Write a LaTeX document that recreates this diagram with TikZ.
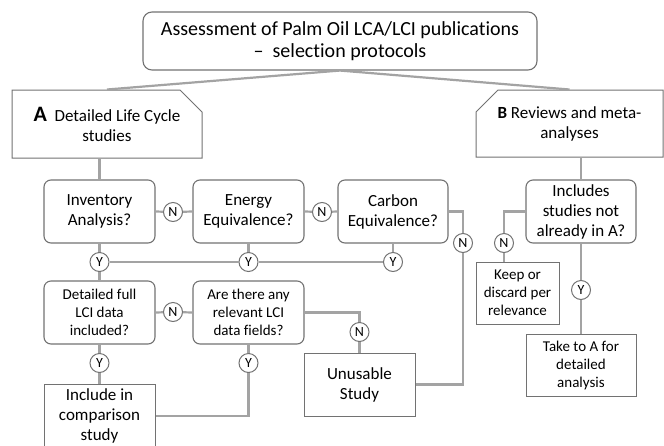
\documentclass[tikz,border=0pt]{standalone}
\usepackage{fontspec}
\setmainfont[Ligatures=NoCommon]{Carlito}
\usetikzlibrary{positioning, shapes.misc}
\definecolor{boxgray}{HTML}{727272}
\definecolor{linkgray}{HTML}{A3A3A3}

\begin{document}
\begin{tikzpicture}[
    x=1pt, y=-1pt,
    qbox/.style={rectangle, rounded corners=7pt, draw=boxgray, line width=1.1pt,
                 align=center, inner sep=0pt, minimum width=111pt, minimum height=63pt,
                 font=\fontsize{17}{20}\selectfont},
    qsmall/.style={qbox, font=\fontsize{15}{18}\selectfont},
    sbox/.style={qbox, rounded corners=0pt, line width=1pt},
    headbox/.style={chamfered rectangle, chamfered rectangle xsep=11pt,
                    chamfered rectangle ysep=11pt, draw=boxgray, line width=1pt,
                    align=center, inner sep=0pt, font=\fontsize{17}{20}\selectfont},
    yn/.style={circle, draw=boxgray, fill=white, line width=1pt, inner sep=0pt,
               minimum size=19pt, font=\fontsize{14}{14}\selectfont},
    link/.style={draw=linkgray, line width=2.2pt}
  ]
  \useasboundingbox (0,0) rectangle (664,445);

  % heading boxes
  \node[qbox, rounded corners=9pt, minimum width=394pt, minimum height=58pt,
        font=\fontsize{20}{22}\selectfont] (title) at (340,41)
        {Assessment of Palm Oil LCA/LCI publications\\– \ selection protocols};
  \node[headbox, chamfered rectangle corners=north east,
        minimum width=190pt, minimum height=68pt] (studA) at (107,124)
        {{\fontsize{22}{22}\selectfont\bfseries A}\ \ Detailed Life Cycle\\studies};
  \node[headbox, chamfered rectangle corners=north west,
        minimum width=187pt, minimum height=67pt] (studB) at (569.5,123.5)
        {\textbf{B} Reviews and meta-\\analyses};

  % branch A, first row
  \node[qbox] (invent) at (99.5,211.5) {Inventory\\Analysis?};
  \node[qbox] (energy) at (248.5,211.5) {Energy\\Equivalence?};
  \node[qbox, minimum width=110pt] (carbon) at (393,211.5) {Carbon\\Equivalence?};
  \node[yn] (nInv) at (173,212) {N};
  \node[yn] (nEne) at (322,212) {N};
  \node[yn] (yInv) at (99.5,262) {Y};
  \node[yn] (yEne) at (248.5,262) {Y};
  \node[yn] (yCar) at (393,262) {Y};

  % branch A, second row
  \node[qsmall] (fullLCI) at (99.5,312.5) {Detailed full\\LCI data\\included?};
  \node[qsmall] (fields) at (248.5,312.5) {Are there any\\relevant LCI\\data fields?};
  \node[yn] (nFull) at (173,312) {N};
  \node[yn] (yFull) at (99.5,363) {Y};
  \node[yn] (yFld) at (248.5,363) {Y};
  \node[yn] (nFld) at (359.5,332) {N};
  \node[yn] (nCar) at (463,243) {N};
  \node[sbox, minimum height=64pt] (include) at (99.5,416) {Include in\\comparison\\study};
  \node[sbox] (unusable) at (359.5,384.5) {Unusable\\Study};

  % branch B
  \node[qbox, minimum width=110pt] (notInA) at (581,211.5) {Includes\\studies not\\already in A?};
  \node[yn] (nNot) at (504,243) {N};
  \node[yn] (yNot) at (581,290) {Y};
  \node[sbox, minimum width=83pt, minimum height=62pt,
        font=\fontsize{15}{18}\selectfont] (keep) at (517.5,293) {Keep or\\discard per\\relevance};
  \node[sbox, minimum width=110pt, minimum height=62pt,
        font=\fontsize{15}{18}\selectfont] (takeA) at (581,365) {Take to A for\\detailed\\analysis};

  % connectors
  \draw[link] (title.south) -- (studA.north);
  \draw[link] (title.south) -- (studB.north);
  \draw[link] (invent.north) -- (invent.north |- studA.south);
  \draw[link] (invent.east) -- (nInv) (nInv) -- (energy.west);
  \draw[link] (energy.east) -- (nEne) (nEne) -- (carbon.west);
  \draw[link] (invent.south) -- (yInv) (energy.south) -- (yEne) (carbon.south) -- (yCar);
  \draw[link] (yInv) -- (yEne) (yEne) -- (yCar);
  \draw[link] (yInv) -- (fullLCI.north);
  \draw[link] (fullLCI.east) -- (nFull) (nFull) -- (fields.west);
  \draw[link] (fullLCI.south) -- (yFull) (yFull) -- (include.north);
  \draw[link] (fields.south) -- (yFld) (yFld) |- (include.east);
  \draw[link] (fields.east) -| (nFld) (nFld) -- (unusable.north);
  \draw[link] (carbon.east) -| (nCar) (nCar) |- (unusable.east);
  \draw[link] (notInA.north) -- (notInA.north |- studB.south);
  \draw[link] (notInA.west) -| (nNot) (nNot) -- (nNot |- keep.north);
  \draw[link] (notInA.south) -- (yNot) (yNot) -- (takeA.north);
\end{tikzpicture}
\end{document}
